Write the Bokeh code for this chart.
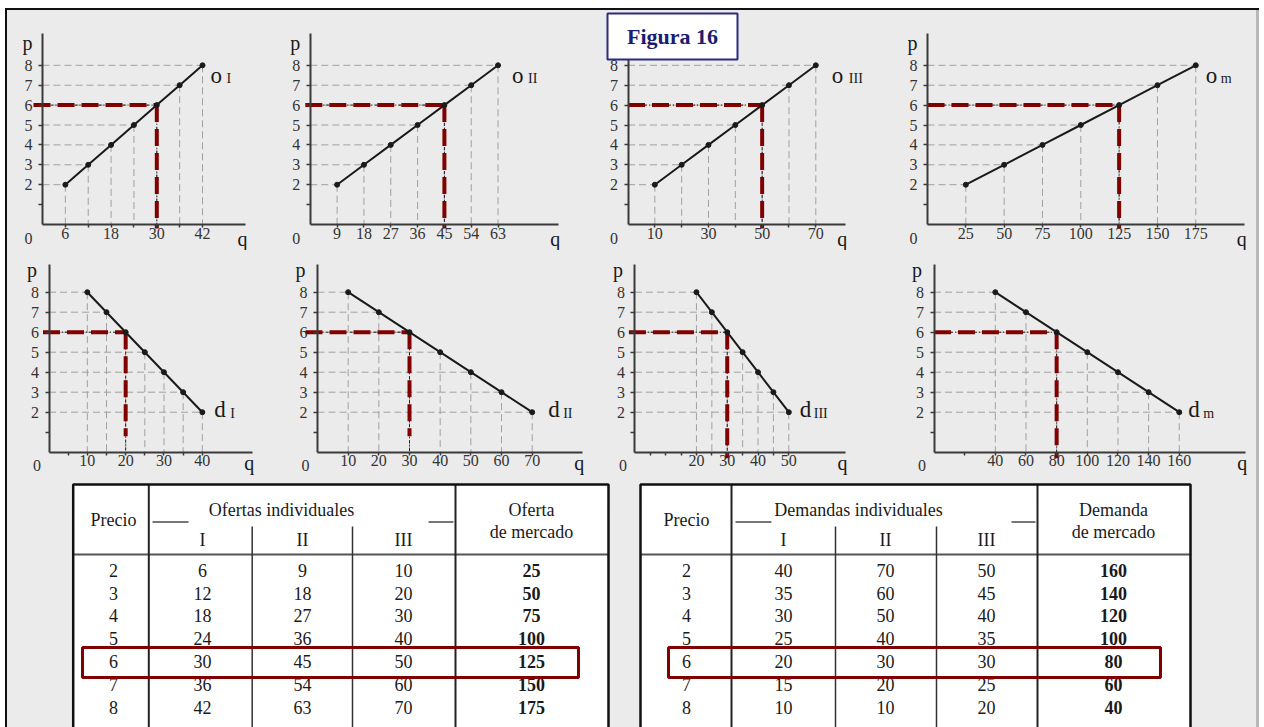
from bokeh.plotting import figure
from bokeh.models import Range1d, LinearAxis, FixedTicker, Spacer
from bokeh.layouts import row, column
from bokeh.core.properties import value
from bokeh.embed import file_html
from bokeh.resources import INLINE

FONT = "Liberation Serif"
BG = "#ebebeb"
INK = "#1a1a1a"
AX = "#3a3a3a"
GRID = "#a0a0a0"
RED = "#800000"
NAVY = "#1c1c6e"

# ---------------- data ----------------
precio = [2, 3, 4, 5, 6, 7, 8]
oferta_I = [6, 12, 18, 24, 30, 36, 42]
oferta_II = [9, 18, 27, 36, 45, 54, 63]
oferta_III = [10, 20, 30, 40, 50, 60, 70]
oferta_mercado = [25, 50, 75, 100, 125, 150, 175]
demanda_I = [40, 35, 30, 25, 20, 15, 10]
demanda_II = [70, 60, 50, 40, 30, 20, 10]
demanda_III = [50, 45, 40, 35, 30, 25, 20]
demanda_mercado = [160, 140, 120, 100, 80, 60, 40]
precio_equilibrio = 6

p_ticks = [1, 2, 3, 4, 5, 6, 7, 8]
p_tick_labels = [2, 3, 4, 5, 6, 7, 8]

q_ticks_oI = [6, 12, 18, 24, 30, 36, 42]
q_labels_oI = [6, 18, 30, 42]
q_ticks_oII = [9, 18, 27, 36, 45, 54, 63]
q_labels_oII = [9, 18, 27, 36, 45, 54, 63]
q_ticks_oIII = [10, 20, 30, 40, 50, 60, 70]
q_labels_oIII = [10, 30, 50, 70]
q_ticks_om = [25, 50, 75, 100, 125, 150, 175]
q_labels_om = [25, 50, 75, 100, 125, 150, 175]
q_ticks_dI = [5, 10, 15, 20, 25, 30, 35, 40]
q_labels_dI = [10, 20, 30, 40]
q_ticks_dII = [10, 20, 30, 40, 50, 60, 70]
q_labels_dII = [10, 20, 30, 40, 50, 60, 70]
q_ticks_dIII = [5, 10, 15, 20, 25, 30, 35, 40, 45, 50]
q_labels_dIII = [20, 30, 40, 50]
q_ticks_dm = [20, 40, 60, 80, 100, 120, 140, 160]
q_labels_dm = [40, 60, 80, 100, 120, 140, 160]

titulo = "Figura 16"
encabezado_oferta = ["Precio", "Ofertas individuales", "Oferta", "de mercado"]
encabezado_demanda = ["Precio", "Demandas individuales", "Demanda", "de mercado"]
sub_columnas = ["I", "II", "III"]


def txt(p, xs, ys, texts, size, color=INK, align="center", baseline="middle",
        xo=0, yo=0, bold=False, level="glyph"):
    return p.text(x=xs, y=ys, text=texts, text_font=value(FONT), text_font_size=size,
                  text_color=color, text_align=align, text_baseline=baseline,
                  x_offset=xo, y_offset=yo, text_font_style="bold" if bold else "normal",
                  level=level)


def chart(c, g):
    T, H, Y0, sy, pend = g["T"], g["H"], g["Y0"], g["sy"], g["pend"]
    L, W, X0, sx = c["L"], c["W"], c["X0"], c["sx"]
    q = c["q"]
    p = figure(width=W, height=H,
               x_range=Range1d((L - X0) / sx, (L + W - X0) / sx),
               y_range=Range1d(-(T + H - Y0) / sy, (Y0 - T) / sy),
               x_axis_type=None, y_axis_type=None, toolbar_location=None,
               output_backend="svg", min_border=0,
               background_fill_color=BG, border_fill_color=BG, outline_line_color=None)
    n = len(q)
    zeros = [0] * n
    p.segment(x0=zeros, y0=precio, x1=q, y1=precio, line_color=GRID, line_width=1, line_dash="7 4")
    p.segment(x0=q, y0=precio, x1=q, y1=zeros, line_color=GRID, line_width=1, line_dash="7 4")

    qe = q[precio.index(precio_equilibrio)]
    p.line([0, qe, qe], [precio_equilibrio, precio_equilibrio, 0], line_color=INK,
           line_width=1, line_dash="3 2 1 2")
    red0 = c["red0"] / sx
    p.line([red0, qe], [precio_equilibrio, precio_equilibrio], line_color=RED, line_width=4,
           line_dash="17 7")
    p.line([qe, qe], [precio_equilibrio, c["red_end"]], line_color=RED, line_width=4,
           line_dash="17 7")

    p.line(q, precio, line_color=INK, line_width=2)
    p.scatter(q, precio, size=5, color=INK)

    xa = LinearAxis(fixed_location=0, bounds=(0, c["qend"]),
                    ticker=FixedTicker(ticks=c["ticks"]),
                    major_label_overrides={t: (str(t) if t in c["labels"] else "") for t in c["ticks"]})
    ya = LinearAxis(fixed_location=0, bounds=(0, pend),
                    ticker=FixedTicker(ticks=p_ticks),
                    major_label_overrides={t: (str(t) if t in p_tick_labels else "") for t in p_ticks})
    for a in (xa, ya):
        a.axis_line_color = AX
        a.axis_line_width = 2
        a.major_tick_line_color = AX
        a.major_tick_line_width = 1.5
        a.major_tick_in = 0
        a.minor_tick_in = 0
        a.minor_tick_out = 0
        a.major_label_text_font = FONT
        a.major_label_text_font_size = "16px"
        a.major_label_text_color = "#333333"
    xa.major_tick_out = 3
    xa.major_label_standoff = 0
    ya.major_tick_out = 4
    ya.major_label_standoff = 6
    p.add_layout(xa, "below")
    p.add_layout(ya, "left")

    txt(p, [0], [pend], ["p"], "20px", align="center", baseline="alphabetic",
        xo=g["p_dx"], yo=g["p_dy"])
    txt(p, [c["qend"]], [0], ["q"], "20px", align="right", baseline="alphabetic",
        xo=2, yo=g["q_dy"])
    txt(p, [0], [0], ["0"], "16px", color="#333333", align="center", baseline="alphabetic",
        xo=g["o_dx"], yo=g["o_dy"])

    k = q.index(max(q))
    txt(p, [q[k]], [precio[k]], [c["main"]], "23px", align="left", baseline="alphabetic",
        xo=c["main_dx"], yo=g["main_dy"])
    txt(p, [q[k]], [precio[k]], [c["sub"]], "14px", align="left", baseline="alphabetic",
        xo=c["sub_dx"], yo=g["sub_dy"])

    if c.get("title"):
        bx0, bx1, by0, by1 = 607, 737, 13, 59
        p.quad(left=[(bx0 - X0) / sx], right=[(bx1 - X0) / sx],
               top=[(Y0 - by0) / sy], bottom=[(Y0 - by1) / sy],
               fill_color="white", line_color="#2b2b80", line_width=2, level="overlay")
        txt(p, [((bx0 + bx1) / 2 - X0) / sx], [(Y0 - (by0 + by1) / 2) / sy], [titulo], "22px",
            color=NAVY, bold=True, level="overlay")
    return p


top_geo = dict(T=10, H=240, Y0=224, sy=19.9, pend=9.6, p_dx=-15, p_dy=10, q_dy=14,
               o_dx=-14, o_dy=14, main_dy=10, sub_dy=13)
bot_geo = dict(T=250, H=228, Y0=451.7, sy=20, pend=9.4, p_dx=-17, p_dy=6, q_dy=11,
               o_dx=-12, o_dy=13, main_dy=-3, sub_dy=1)

top_specs = [
    dict(q=oferta_I, main="o", sub="I", ticks=q_ticks_oI, labels=q_labels_oI,
         L=7, W=263, X0=42, sx=3.81, qend=53.3, red0=-9, red_end=-0.2, main_dx=8, sub_dx=24),
    dict(q=oferta_II, main="o", sub="II", ticks=q_ticks_oII, labels=q_labels_oII,
         L=270, W=320, X0=309.8, sx=2.98, qend=83.2, red0=-5, red_end=-0.2, main_dx=14, sub_dx=30),
    dict(q=oferta_III, main="o", sub="III", ticks=q_ticks_oIII, labels=q_labels_oIII,
         L=590, W=300, X0=627.5, sx=2.683, qend=81, red0=0, red_end=-0.2, main_dx=16, sub_dx=33,
         title=True),
    dict(q=oferta_mercado, main="o", sub="m", ticks=q_ticks_om, labels=q_labels_om,
         L=890, W=366, X0=927, sx=1.533, qend=207, red0=0, red_end=-0.2, main_dx=10, sub_dx=25),
]
bot_specs = [
    dict(q=demanda_I, main="d", sub="I", ticks=q_ticks_dI, labels=q_labels_dI,
         L=7, W=273, X0=48.5, sx=3.833, qend=53, red0=-6, red_end=0.8, main_dx=12, sub_dx=28),
    dict(q=demanda_II, main="d", sub="II", ticks=q_ticks_dII, labels=q_labels_dII,
         L=280, W=320, X0=317, sx=3.067, qend=86.3, red0=-12, red_end=0.8, main_dx=16, sub_dx=31),
    dict(q=demanda_III, main="d", sub="III", ticks=q_ticks_dIII, labels=q_labels_dIII,
         L=600, W=290, X0=634.4, sx=3.078, qend=68.4, red0=-6, red_end=-0.3, main_dx=11, sub_dx=25),
    dict(q=demanda_mercado, main="d", sub="m", ticks=q_ticks_dm, labels=q_labels_dm,
         L=890, W=366, X0=933.5, sx=1.533, qend=203, red0=0, red_end=-0.3, main_dx=9, sub_dx=24),
]

PANEL_STYLE = {"background-color": BG}
top_row = row(*[chart(c, top_geo) for c in top_specs], styles=PANEL_STYLE)
bot_row = row(*[chart(c, bot_geo) for c in bot_specs], styles=PANEL_STYLE)

# ---------------- tables ----------------
tf = figure(width=1249, height=249, x_range=Range1d(7, 1256), y_range=Range1d(727, 478),
            x_axis_type=None, y_axis_type=None, toolbar_location=None, output_backend="svg",
            min_border=0, background_fill_color=BG, border_fill_color=BG, outline_line_color=None)

ROW0, ROWH = 569.7, 22.8
row_y = [ROW0 + i * ROWH for i in range(len(precio))]
BOTTOM = 735
TFS = "18px"


def table(edges, centers, head, cols, group_c, shorts, redbox):
    x_l, x_p, x_a, x_b, x_m, x_r = edges
    tf.quad(left=[x_l], right=[x_r], top=[484], bottom=[BOTTOM], fill_color="white", line_color=None)
    tf.segment(x0=[x_l], y0=[554], x1=[x_r], y1=[554], line_color="#555555", line_width=2)
    tf.segment(x0=[shorts[0], shorts[2]], y0=[521.5, 521.5], x1=[shorts[1], shorts[3]],
               y1=[521.5, 521.5], line_color="#777777", line_width=2)
    tf.segment(x0=[x_a, x_b], y0=[526, 526], x1=[x_a, x_b], y1=[BOTTOM, BOTTOM],
               line_color="#333333", line_width=1.5)
    tf.segment(x0=[x_p, x_m], y0=[484, 484], x1=[x_p, x_m], y1=[BOTTOM, BOTTOM],
               line_color="#222222", line_width=2)
    tf.line([x_l, x_l, x_r, x_r], [BOTTOM, 484, 484, BOTTOM], line_color="#111111", line_width=2.5)
    txt(tf, [centers[0]], [519.7], [head[0]], TFS)
    txt(tf, [group_c], [509.7], [head[1]], TFS)
    txt(tf, [centers[4], centers[4]], [509.7, 531], [head[2], head[3]], TFS)
    txt(tf, centers[1:4], [539.7] * 3, sub_columnas, TFS)
    txt(tf, [centers[0]] * len(precio), row_y, [str(v) for v in precio], TFS)
    for j in range(3):
        txt(tf, [centers[j + 1]] * len(cols[j]), row_y, [str(v) for v in cols[j]], TFS)
    txt(tf, [centers[4]] * len(cols[3]), row_y, [str(v) for v in cols[3]], TFS, bold=True)
    tf.quad(left=[redbox[0]], right=[redbox[1]], top=[647], bottom=[677], fill_color=None,
            line_color=RED, line_width=3)


table([72.7, 148.3, 251.7, 352, 455, 608], [113, 202, 302, 403, 531], encabezado_oferta,
      [oferta_I, oferta_II, oferta_III, oferta_mercado], 281, [152, 188, 428, 453], [82, 578])
table([640, 731, 835, 936, 1037, 1190], [686, 783, 885, 986, 1113], encabezado_demanda,
      [demanda_I, demanda_II, demanda_III, demanda_mercado], 858, [735, 771, 1011, 1035], [668, 1160])

panel = column(top_row, bot_row, tf, styles=PANEL_STYLE)


def band(w, h, color=None):
    if color is None:
        return Spacer(width=w, height=h)
    return Spacer(width=w, height=h, styles={"background-color": color})


layout = column(
    band(1259, 8),
    row(band(5, 2), band(1254, 2, "#111111")),
    row(band(5, 717), band(2, 717, "#111111"), panel, band(3, 717, "#b8b8b8")),
)

open("out.html", "w").write(file_html(layout, INLINE))
